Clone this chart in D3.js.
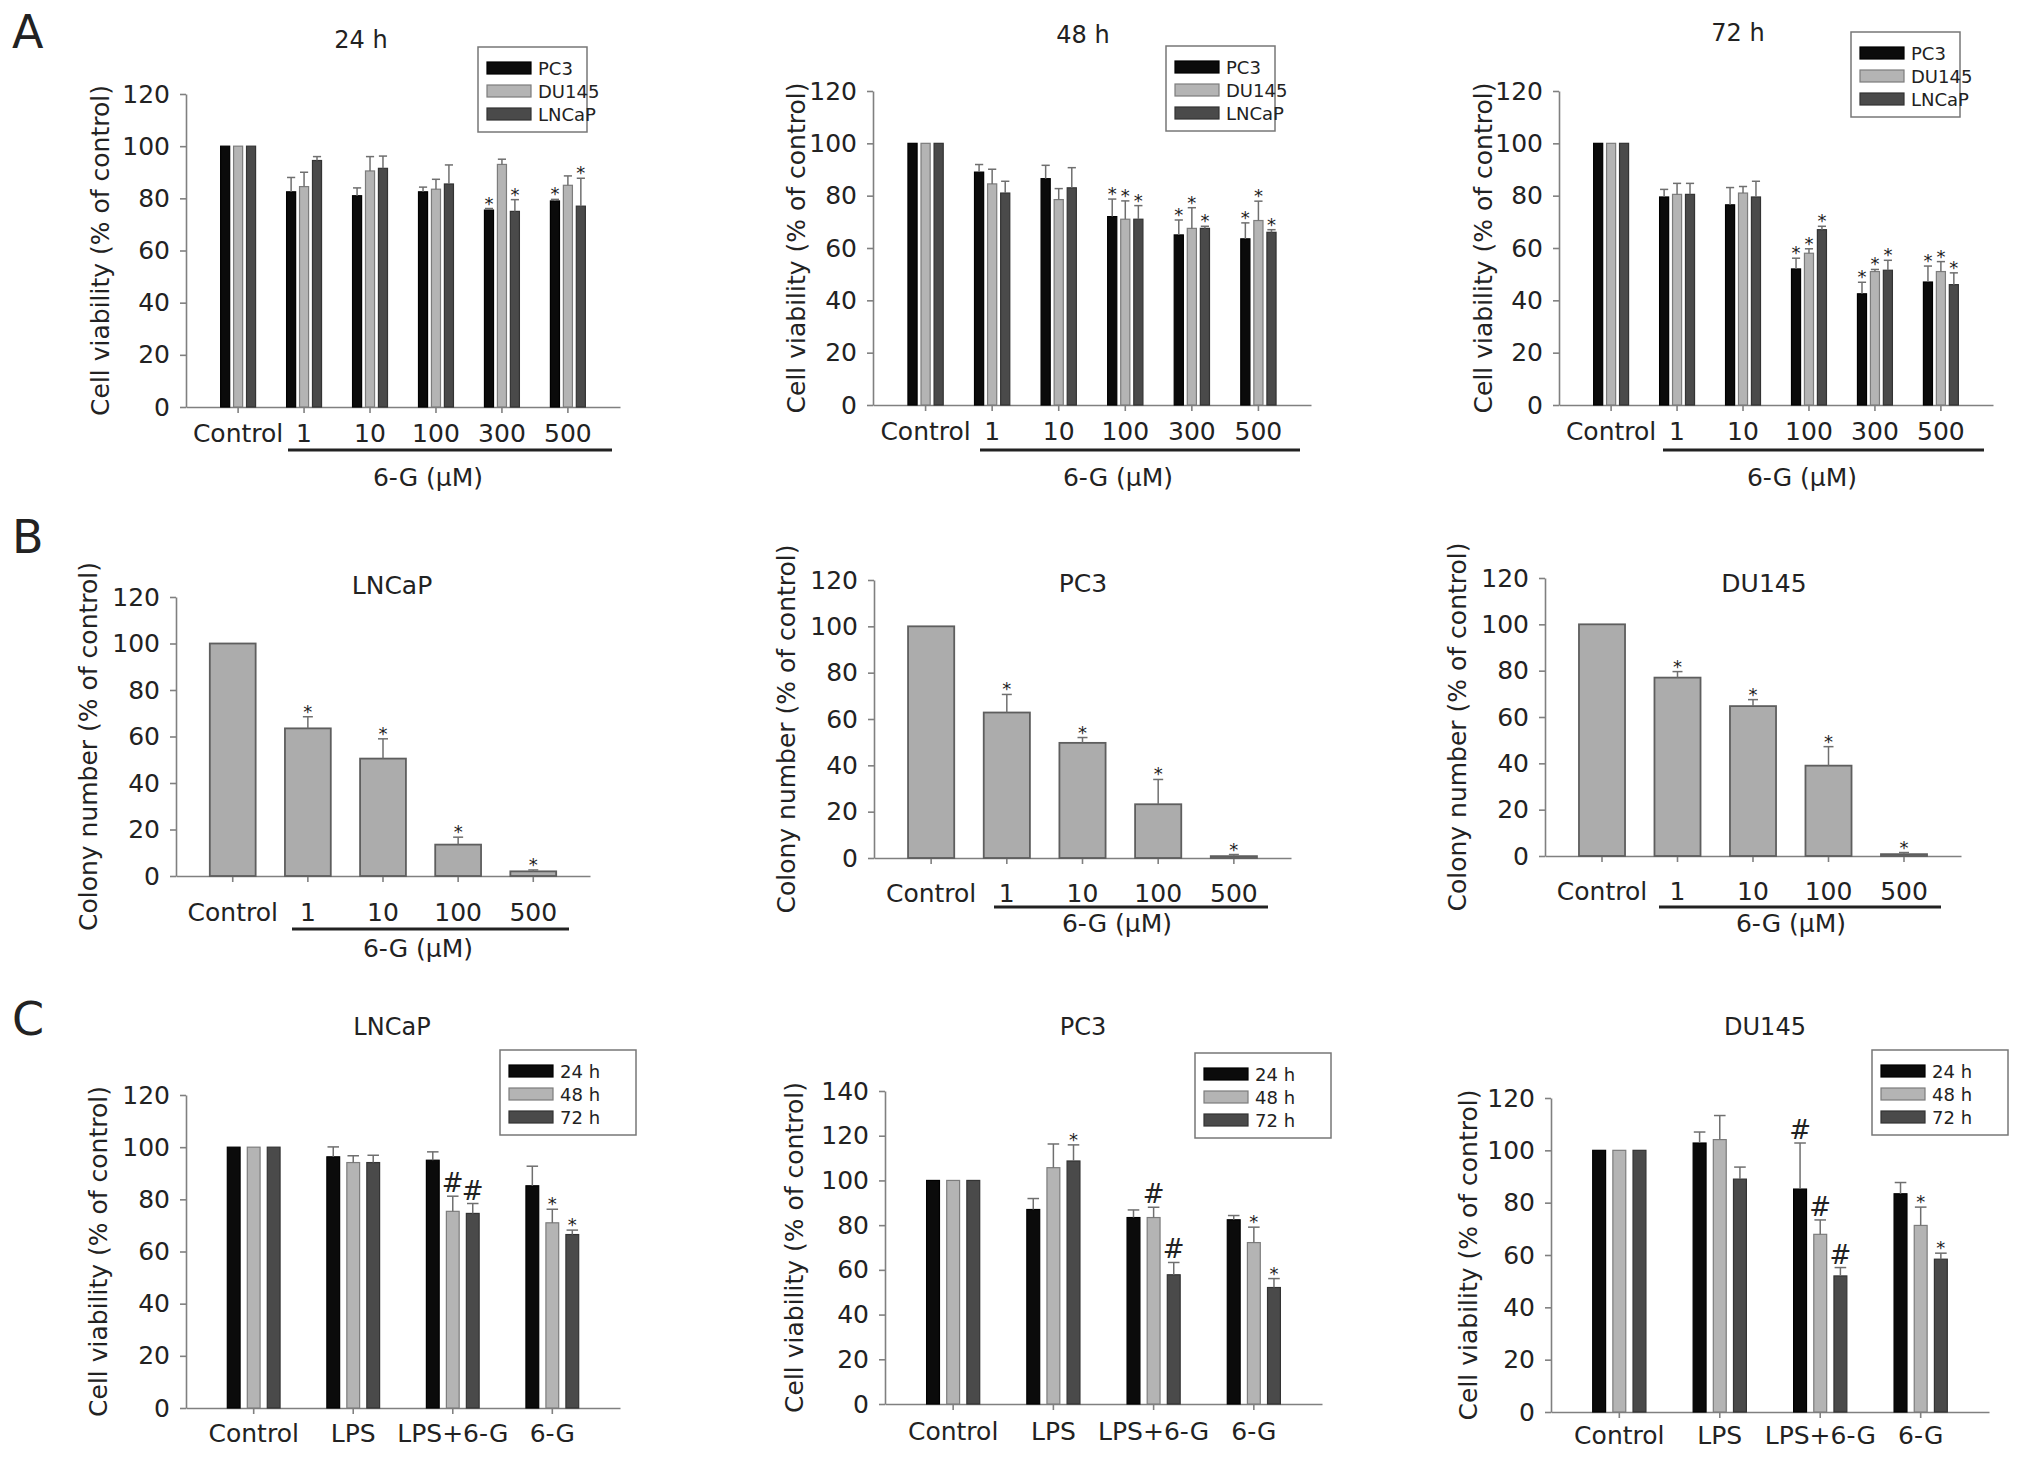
<!DOCTYPE html>
<html>
<head>
<meta charset="utf-8">
<script src="https://cdn.jsdelivr.net/npm/d3@7"></script>
<style>
  body { margin: 0; background: #fff; }
  text { font-family: "DejaVu Sans", sans-serif; fill: #222; }
</style>
</head>
<body>
<svg id="fig" width="2032" height="1459"></svg>
<script>
// ---- data ----
const doseA = ["Control", "1", "10", "100", "300", "500"];
const cellLines = ["PC3", "DU145", "LNCaP"];

// rows: PC3, DU145, LNCaP
const via24 = [[100, 82.5, 81, 82.5, 75.5, 79], [100, 84.5, 90.5, 83.5, 93, 85], [100, 94.5, 91.5, 85.5, 75, 77]];
const via24Err = [[0, 5.5, 3, 1.8, 0.6, 0.6], [0, 5.5, 5.5, 3.8, 2, 3.6], [0, 1.5, 4.7, 7.3, 4.5, 10.7]];
const via24Sig = [["", "", "", "", "*", "*"], ["", "", "", "", "", ""], ["", "", "", "", "*", "*"]];

const via48 = [[100, 89, 86.5, 72, 65, 63.5], [100, 84.5, 78.5, 71, 67.5, 70.5], [100, 81, 83, 71, 67.5, 66]];
const via48Err = [[0, 2.9, 5.1, 6.7, 5.7, 6.1], [0, 5.6, 4.2, 7, 7.9, 7.4], [0, 4.5, 7.7, 5.2, 0.8, 1]];
const via48Sig = [["", "", "", "*", "*", "*"], ["", "", "", "*", "*", "*"], ["", "", "", "*", "*", "*"]];

const via72 = [[100, 79.5, 76.5, 52, 42.5, 47], [100, 80.5, 81, 58, 51, 51], [100, 80.5, 79.5, 67, 51.5, 46]];
const via72Err = [[0, 2.9, 6.6, 4.1, 4.4, 6.1], [0, 4.2, 2.5, 1.7, 0.8, 3.8], [0, 4.2, 6, 1.3, 3.8, 4.5]];
const via72Sig = [["", "", "", "*", "*", "*"], ["", "", "", "*", "*", "*"], ["", "", "", "*", "*", "*"]];

const doseB = ["Control", "1", "10", "100", "500"];
const colonyLNCaP = [100, 63.5, 50.5, 13.5, 2];
const colonyLNCaPErr = [0, 5, 8.5, 3.2, 0.6];
const colonyPC3 = [100, 62.8, 49.7, 23.2, 0.8];
const colonyPC3Err = [0, 7.8, 2.3, 10.7, 0.7];
const colonyDU145 = [100, 77, 64.7, 39, 0.8];
const colonyDU145Err = [0, 2.6, 2.8, 8.2, 0.7];
const colonySig = ["", "*", "*", "*", "*"];

const treatC = ["Control", "LPS", "LPS+6-G", "6-G"];
const timesC = ["24 h", "48 h", "72 h"];
// rows: 24 h, 48 h, 72 h
const lpsLNCaP = [[100, 96.3, 95, 85.2], [100, 94.1, 75.4, 71], [100, 94.1, 74.6, 66.5]];
const lpsLNCaPErr = [[0, 3.8, 3.2, 7.5], [0, 2.6, 5.8, 5.2], [0, 2.8, 3.8, 1.7]];
const lpsLNCaPSig = [["", "", "", ""], ["", "", "#", "*"], ["", "", "#", "*"]];

const lpsPC3 = [[100, 87, 83.4, 82.4], [100, 105.7, 83.4, 72.2], [100, 108.7, 57.8, 52.1]];
const lpsPC3Err = [[0, 4.9, 3.4, 1.9], [0, 10.6, 4.6, 6.9], [0, 7.2, 5.5, 4]];
const lpsPC3Sig = [["", "", "", ""], ["", "", "#", "*"], ["", "*", "#", "*"]];

const lpsDU145 = [[100, 102.8, 85.2, 83.4], [100, 104.1, 67.9, 71.3], [100, 89, 52, 58.4]];
const lpsDU145Err = [[0, 4.2, 17.6, 4.3], [0, 9.2, 5.5, 7], [0, 4.6, 3.2, 2.3]];
const lpsDU145Sig = [["", "", "#", ""], ["", "", "#", "*"], ["", "", "#", "*"]];

// ---- styles ----
const fills = ["#0b0b0b", "#b4b4b4", "#4a4a4a"];
const strokes = ["#000", "#7c7c7c", "#333"];
const axisCol = "#808080";
const svg = d3.select("#fig");

function styleAxis(sel) {
  sel.select(".domain").attr("stroke", axisCol).attr("stroke-width", 1.6);
  sel.selectAll(".tick line").attr("stroke", axisCol).attr("stroke-width", 1.6);
  sel.selectAll(".tick text").attr("font-size", 25).attr("fill", "#222")
    .attr("font-family", "DejaVu Sans, sans-serif");
}

function yTitle(g, text, x, y) {
  g.append("text").attr("transform", `translate(${x},${y}) rotate(-90)`)
    .attr("text-anchor", "middle").attr("dominant-baseline", "central")
    .attr("font-size", 25).text(text);
}

function sigMark(g, s, cx, yTop) {
  if (!s) return;
  if (s === "*") {
    g.append("text").attr("x", cx).attr("y", yTop + 1).attr("text-anchor", "middle")
      .attr("font-size", 18).text("*");
  } else {
    g.append("text").attr("x", cx).attr("y", yTop - 4).attr("text-anchor", "middle")
      .attr("font-size", 26).text("#");
  }
}

function errBar(g, cx, y, m, e, capW) {
  if (!e) return;
  g.append("line").attr("x1", cx).attr("x2", cx).attr("y1", y(m)).attr("y2", y(m + e))
    .attr("stroke", "#6f6f6f").attr("stroke-width", 1.5);
  g.append("line").attr("x1", cx - capW / 2).attr("x2", cx + capW / 2).attr("y1", y(m + e)).attr("y2", y(m + e))
    .attr("stroke", "#6f6f6f").attr("stroke-width", 1.5);
}

function legend(g, names, bx, by) {
  const w = names[0].length > 3 ? 136 : 109, h = 85;
  g.append("rect").attr("x", bx).attr("y", by).attr("width", w).attr("height", h)
    .attr("fill", "#fff").attr("stroke", "#777").attr("stroke-width", 1.5);
  names.forEach((n, i) => {
    const ry = by + 21 + i * 23;
    g.append("rect").attr("x", bx + 9).attr("y", ry - 6).attr("width", 44).attr("height", 12)
      .attr("fill", fills[i]).attr("stroke", strokes[i]).attr("stroke-width", 1.2);
    g.append("text").attr("x", bx + 60).attr("y", ry).attr("dominant-baseline", "central")
      .attr("font-size", 18).text(n);
  });
}

function underline(g, u) {
  g.append("line").attr("x1", u[0]).attr("x2", u[1]).attr("y1", u[2]).attr("y2", u[2])
    .attr("stroke", "#222").attr("stroke-width", 3);
  g.append("text").attr("x", u[3]).attr("y", u[4]).attr("text-anchor", "middle")
    .attr("dominant-baseline", "central").attr("font-size", 25).text("6-G (\u03bcM)");
}

function drawGrouped(p) {
  const g = svg.append("g");
  const x = d3.scaleBand().domain(p.cats).range([p.x0, p.x1]).paddingInner(0).paddingOuter(p.po);
  const step = x.step();
  const xs = d3.scaleBand().domain(p.series).range([-0.265 * step, 0.265 * step]).paddingInner(p.pi);
  const y = d3.scaleLinear().domain([0, p.ymax]).range([p.y0, p.yTop]);

  g.append("g").attr("transform", `translate(${p.x0},0)`)
    .call(d3.axisLeft(y).tickValues(d3.range(0, p.ymax + 1, 20)).tickSize(6).tickSizeOuter(0).tickPadding(10))
    .call(styleAxis);
  g.append("g").attr("transform", `translate(0,${p.y0})`)
    .call(d3.axisBottom(x).tickSize(6).tickSizeOuter(0).tickPadding(p.pad))
    .call(styleAxis);

  p.series.forEach((s, i) => {
    const cxOf = c => x(c) + x.bandwidth() / 2 + xs(s) + xs.bandwidth() / 2;
    p.cats.forEach((c, j) => {
      const m = p.means[i][j];
      g.append("rect").attr("x", x(c) + x.bandwidth() / 2 + xs(s)).attr("y", y(m))
        .attr("width", xs.bandwidth()).attr("height", y(0) - y(m))
        .attr("fill", fills[i]).attr("stroke", strokes[i]).attr("stroke-width", 1.2);
    });
    p.cats.forEach((c, j) => {
      const m = p.means[i][j], e = p.errs[i][j];
      errBar(g, cxOf(c), y, m, e, xs.bandwidth() * 0.9);
      sigMark(g, p.sigs[i][j], cxOf(c), y(m + e));
    });
  });

  yTitle(g, p.ylab, p.tx, (p.y0 + p.yTop) / 2);
  g.append("text").attr("x", p.title[1]).attr("y", p.title[2]).attr("text-anchor", "middle")
    .attr("dominant-baseline", "central").attr("font-size", 24).text(p.title[0]);
  legend(g, p.series, p.leg[0], p.leg[1]);
  if (p.under) underline(g, p.under);
}

function drawColony(p) {
  const g = svg.append("g");
  const x = d3.scaleBand().domain(doseB).range([p.x0, p.x1]).paddingInner(0.39).paddingOuter(0.45);
  const y = d3.scaleLinear().domain([0, 120]).range([p.y0, p.yTop]);

  g.append("g").attr("transform", `translate(${p.x0},0)`)
    .call(d3.axisLeft(y).tickValues(d3.range(0, 121, 20)).tickSize(6).tickSizeOuter(0).tickPadding(10))
    .call(styleAxis);
  g.append("g").attr("transform", `translate(0,${p.y0})`)
    .call(d3.axisBottom(x).tickSize(6).tickSizeOuter(0).tickPadding(p.pad))
    .call(styleAxis);

  g.selectAll("rect.bar").data(p.means).join("rect").attr("class", "bar")
    .attr("x", (d, j) => x(doseB[j])).attr("y", d => y(d))
    .attr("width", x.bandwidth()).attr("height", d => y(0) - y(d))
    .attr("fill", "#acacac").attr("stroke", "#5e5e5e").attr("stroke-width", 1.8);
  p.means.forEach((m, j) => {
    const cx = x(doseB[j]) + x.bandwidth() / 2;
    errBar(g, cx, y, m, p.errs[j], 10);
    sigMark(g, colonySig[j], cx, y(m + p.errs[j]));
  });

  yTitle(g, "Colony number (% of control)", p.tx, (p.y0 + p.yTop) / 2 + 10);
  g.append("text").attr("x", p.title[1]).attr("y", p.title[2]).attr("text-anchor", "middle")
    .attr("dominant-baseline", "central").attr("font-size", 25).text(p.title[0]);
  underline(g, p.under);
}

// ---- row A ----
const viaLab = "Cell viability (% of control)";
drawGrouped({ cats: doseA, series: cellLines, means: via24, errs: via24Err, sigs: via24Sig,
  x0: 186, x1: 620, y0: 407, yTop: 94, ymax: 120, po: 0.29, pi: 0.3, pad: 11, tx: 100,
  ylab: viaLab, title: ["24 h", 361, 40], leg: [478, 47], under: [288, 612, 450, 428, 477] });
drawGrouped({ cats: doseA, series: cellLines, means: via48, errs: via48Err, sigs: via48Sig,
  x0: 873, x1: 1311, y0: 405, yTop: 91, ymax: 120, po: 0.29, pi: 0.3, pad: 11, tx: 796,
  ylab: viaLab, title: ["48 h", 1083, 35], leg: [1166, 46], under: [980, 1300, 450, 1118, 477] });
drawGrouped({ cats: doseA, series: cellLines, means: via72, errs: via72Err, sigs: via72Sig,
  x0: 1559, x1: 1993, y0: 405, yTop: 91, ymax: 120, po: 0.29, pi: 0.3, pad: 11, tx: 1483,
  ylab: viaLab, title: ["72 h", 1738, 33], leg: [1851, 32], under: [1663, 1984, 450, 1802, 477] });

// ---- row B ----
drawColony({ means: colonyLNCaP, errs: colonyLNCaPErr, x0: 176, x1: 590, y0: 876, yTop: 597, pad: 21,
  tx: 88, title: ["LNCaP", 392, 585], under: [292, 569, 929, 418, 948] });
drawColony({ means: colonyPC3, errs: colonyPC3Err, x0: 874, x1: 1291, y0: 858, yTop: 580, pad: 20,
  tx: 786, title: ["PC3", 1083, 583], under: [994, 1268, 907, 1117, 923] });
drawColony({ means: colonyDU145, errs: colonyDU145Err, x0: 1545, x1: 1961, y0: 856, yTop: 578, pad: 20,
  tx: 1457, title: ["DU145", 1764, 583], under: [1659, 1941, 907, 1791, 923] });

// ---- row C ----
drawGrouped({ cats: treatC, series: timesC, means: lpsLNCaP, errs: lpsLNCaPErr, sigs: lpsLNCaPSig,
  x0: 186, x1: 620, y0: 1408, yTop: 1095, ymax: 120, po: 0.18, pi: 0.36, pad: 10, tx: 98,
  ylab: viaLab, title: ["LNCaP", 392, 1027], leg: [500, 1050] });
drawGrouped({ cats: treatC, series: timesC, means: lpsPC3, errs: lpsPC3Err, sigs: lpsPC3Sig,
  x0: 885, x1: 1322, y0: 1404, yTop: 1091, ymax: 140, po: 0.18, pi: 0.36, pad: 12, tx: 794,
  ylab: viaLab, title: ["PC3", 1083, 1027], leg: [1195, 1053] });
drawGrouped({ cats: treatC, series: timesC, means: lpsDU145, errs: lpsDU145Err, sigs: lpsDU145Sig,
  x0: 1551, x1: 1989, y0: 1412, yTop: 1098, ymax: 120, po: 0.18, pi: 0.36, pad: 8, tx: 1468,
  ylab: viaLab, title: ["DU145", 1765, 1027], leg: [1872, 1050] });

// panel letters
[["A", 12, 48], ["B", 12, 553], ["C", 12, 1035]].forEach(l => {
  svg.append("text").attr("x", l[1]).attr("y", l[2]).attr("font-size", 46).text(l[0]);
});
</script>
</body>
</html>
